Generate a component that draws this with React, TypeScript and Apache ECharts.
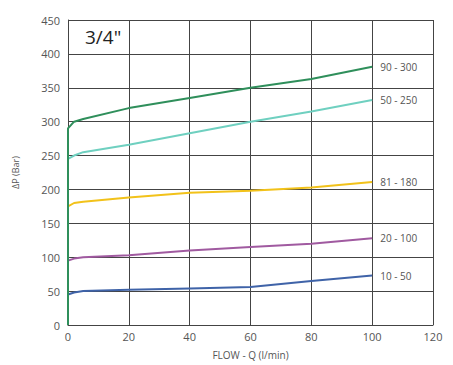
import React, { useEffect, useRef } from "react";
import * as echarts from "echarts";

const flow = [0, 0, 2, 5, 20, 40, 60, 80, 100];
const s90_300 = [0, 290, 300, 304, 320, 335, 350, 363, 381];
const s50_250 = [0, 245, 250, 255, 266, 283, 300, 315, 332];
const s81_180 = [0, 175, 180, 182, 188, 195, 198, 203, 211];
const s20_100 = [0, 95, 98, 100, 103, 110, 115, 120, 128];
const s10_50 = [0, 45, 48, 50, 52, 54, 56, 65, 73];
const seriesNames = ["90 - 300", "50 - 250", "81 - 180", "20 - 100", "10 - 50"];
const seriesColors = ["#2f8f5b", "#6fd0c0", "#f2c21a", "#a05aa0", "#3f63a8"];
const allSeries = [s90_300, s50_250, s81_180, s20_100, s10_50];

export default function App() {
  const ref = useRef<HTMLDivElement>(null);
  useEffect(() => {
    const chart = echarts.init(ref.current!, null, { renderer: "svg" });
    const font = "'Open Sans', sans-serif";
    chart.setOption({
      animation: false,
      backgroundColor: "#ffffff",
      grid: { left: 68, right: 20, top: 20, bottom: 38 },
      title: {
        text: '3/4"',
        left: 80,
        top: 22,
        textStyle: { fontFamily: font, fontSize: 19, fontWeight: "normal", color: "#222" },
      },
      xAxis: {
        type: "value",
        min: 0,
        max: 120,
        interval: 20,
        name: "FLOW - Q (l/min)",
        nameLocation: "middle",
        nameGap: 25,
        nameTextStyle: { fontFamily: font, fontSize: 10, color: "#555" },
        axisLine: { lineStyle: { color: "#444", width: 1 } },
        axisTick: { show: false },
        axisLabel: { fontFamily: font, fontSize: 11, color: "#555", margin: 6 },
        splitLine: { show: true, lineStyle: { color: "#444", width: 1 } },
      },
      yAxis: {
        type: "value",
        min: 0,
        max: 450,
        interval: 50,
        name: "ΔP (Bar)",
        nameLocation: "middle",
        nameGap: 48,
        nameTextStyle: { fontFamily: font, fontSize: 9, color: "#555" },
        axisLine: { show: true, lineStyle: { color: "#444", width: 1 } },
        axisTick: { show: false },
        axisLabel: { fontFamily: font, fontSize: 11, color: "#555", margin: 8 },
        splitLine: { show: true, lineStyle: { color: "#444", width: 1 } },
      },
      series: allSeries.map((vals, i) => ({
        name: seriesNames[i],
        type: "line",
        data: flow.map((f, j) => [f, vals[j]]),
        symbol: "none",
        lineStyle: { color: seriesColors[i], width: 2 },
        z: 10 - i,
        endLabel: {
          show: true,
          formatter: seriesNames[i],
          fontFamily: font,
          fontSize: 10,
          color: "#555",
          distance: 8,
        },
      })),
    });
    return () => chart.dispose();
  }, []);
  return <div ref={ref} style={{ width: 453, height: 365, position: "absolute", left: 0, top: 0 }} />;
}
